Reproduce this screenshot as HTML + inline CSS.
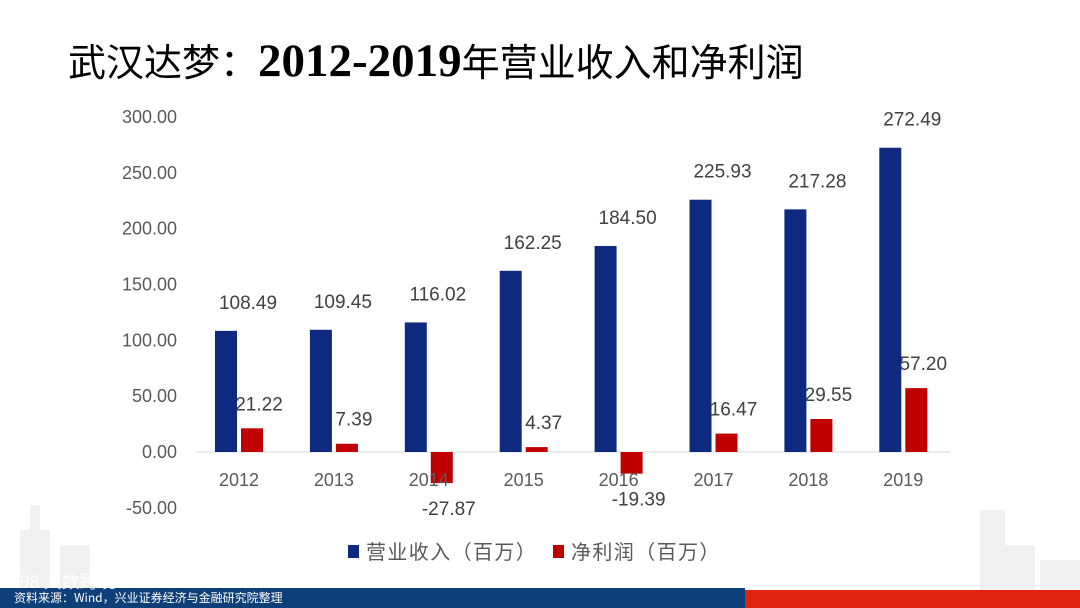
<!DOCTYPE html>
<html><head><meta charset="utf-8"><style>
body{margin:0;width:1080px;height:608px;overflow:hidden;background:#fff;font-family:"Liberation Sans","Noto Sans CJK SC",sans-serif;position:relative}
#title{position:absolute;left:68px;top:32px;font-size:38px;color:#000;font-family:"Noto Sans CJK SC",sans-serif;white-space:nowrap}
#title b{font-family:"Liberation Serif",serif;font-weight:bold;font-size:47px}
svg{position:absolute;left:0;top:0}
</style></head><body>
<div id="title">武汉达梦：<b>2012-2019</b>年营业收入和净利润</div>
<svg id="c" width="1080" height="608">
<g fill="#f0f0f0">
<rect x="20" y="530" width="30" height="60"/><rect x="30" y="505" width="10" height="85"/><rect x="60" y="545" width="30" height="45"/>
<rect x="980" y="510" width="25" height="80"/><rect x="1005" y="545" width="30" height="45"/><rect x="1040" y="560" width="40" height="30"/>
</g>
<rect x="0" y="588" width="745" height="20" fill="#0f3f78"/>
<rect x="745" y="590" width="335" height="18" fill="#e0230f"/>
<text x="14" y="602" font-size="12" fill="#fff" font-family="Noto Sans CJK SC,sans-serif">资料来源：Wind，兴业证券经济与金融研究院整理</text>
<text x="8" y="588" font-size="18" fill="#fff" opacity="0.8" font-family="Noto Sans CJK SC,sans-serif">K98 大数跨境</text>
</svg>
<script>
const categories=["2012","2013","2014","2015","2016","2017","2018","2019"];
const revenue=[108.49,109.45,116.02,162.25,184.50,225.93,217.28,272.49];
const profit=[21.22,7.39,-27.87,4.37,-19.39,16.47,29.55,57.20];
const yTicks=[300,250,200,150,100,50,0,-50];
const NS="http://www.w3.org/2000/svg";
const svg=document.getElementById('c');
const y=v=>452-v*(335/300);
const x=i=>239+i*94.9;
function mk(t,a,txt){const e=document.createElementNS(NS,t);for(const k in a)e.setAttribute(k,a[k]);if(txt!==undefined)e.textContent=txt;svg.appendChild(e);return e;}
yTicks.forEach(v=>{const e=mk('text',{x:177,y:y(v)+6,'text-anchor':'end','font-size':18,fill:'#595959'},v.toFixed(2));

});
const ax=mk('line',{x1:195,x2:950,y1:y(0),y2:y(0),stroke:'#d9d9d9','stroke-width':1});


categories.forEach((c,i)=>{
const cx=x(i);
const r=revenue[i],p=profit[i];
const b=mk('rect',{x:cx-24,y:y(r),width:22,height:y(0)-y(r),fill:'#0d2a80'});


const rb=mk('rect',{x:cx+2,y:Math.min(y(p),y(0)),width:22,height:Math.abs(y(0)-y(p)),fill:'#c00000'});


const t=mk('text',{x:cx,y:486,'text-anchor':'middle','font-size':18,fill:'#595959'},c);


const rl=mk('text',{x:cx+9,y:y(r)-22,'text-anchor':'middle','font-size':19,fill:'#404040'},r.toFixed(2));


const py=p>=0?y(p)-18:y(p)+32;
const pl=mk('text',{x:cx+20,y:py,'text-anchor':'middle','font-size':19,fill:'#404040'},p.toFixed(2));


});
const l1=mk('rect',{x:348,y:545,width:11,height:13,fill:'#0d2a80'});


const l1t=mk('text',{x:366,y:559,'font-size':20,'letter-spacing':1.4,fill:'#595959','font-family':'Noto Sans CJK SC,sans-serif'},'营业收入（百万）');


const l2=mk('rect',{x:553,y:545,width:11,height:13,fill:'#c00000'});


const l2t=mk('text',{x:571,y:559,'font-size':20,'letter-spacing':1.4,fill:'#595959','font-family':'Noto Sans CJK SC,sans-serif'},'净利润（百万）');


</script>
</body></html>
